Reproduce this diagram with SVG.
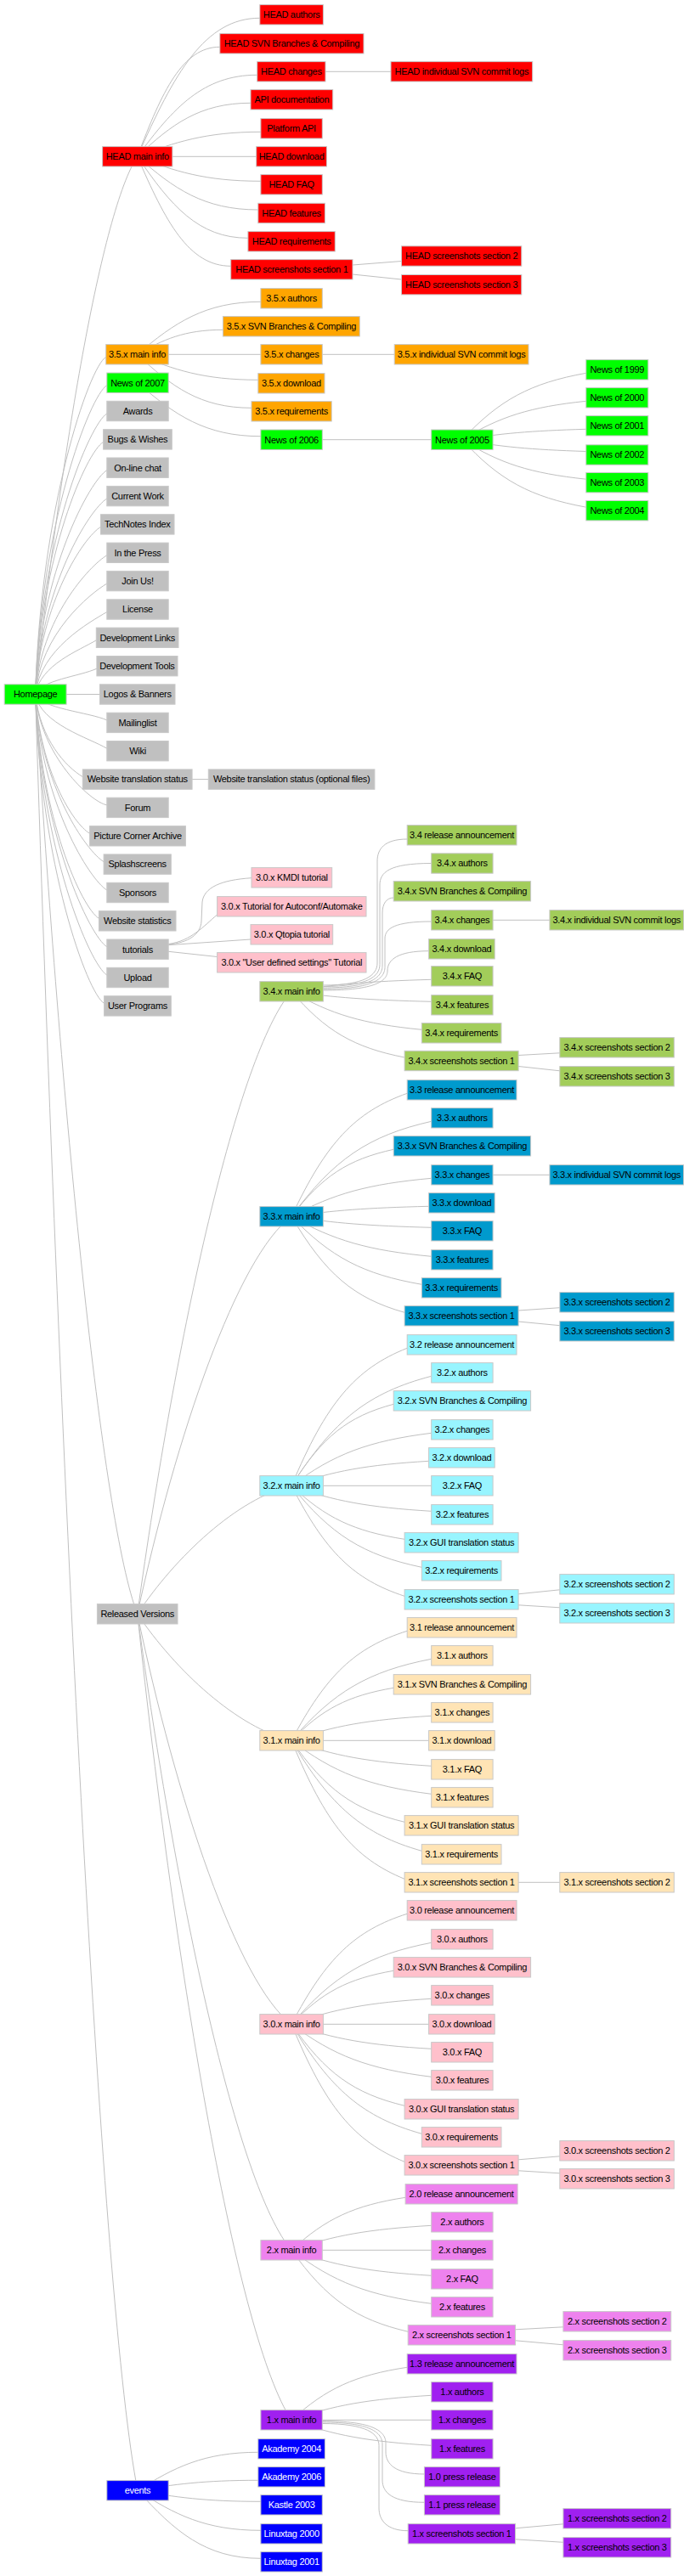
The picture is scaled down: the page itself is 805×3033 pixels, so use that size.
<svg xmlns="http://www.w3.org/2000/svg" width="805" height="3033" viewBox="0 0 805 3033">
<style>
.e path{fill:none;stroke:#c0c0c0;stroke-width:1}
.n rect{stroke:#c8c8c8;stroke-width:1;height:23.4px}
.n text{font-family:"Liberation Sans",Arial,Helvetica,sans-serif;font-size:11px;letter-spacing:-0.3px;text-anchor:middle;fill:#000}
.red rect{fill:#ff0000}.orange rect{fill:#ffa500}.green rect{fill:#00ff00}.gray rect{fill:#c0c0c0}
.pink rect{fill:#ffc0cb}.olive rect{fill:#a2cd5a}.sky rect{fill:#009acd}.cyan rect{fill:#98f5ff}
.moc rect{fill:#ffe4b5}.vio rect{fill:#ee82ee}.pur rect{fill:#a020f0}.blue rect{fill:#0000ff}.blue text{fill:#ffffff}
</style>
<rect x="0" y="0" width="805" height="3033" fill="#ffffff"/>
<g id="connectors" class="e">
<path d="M41.6,817.5 C71.6,532.6 119.7,247.6 161.7,184.3"/>
<path d="M41.6,817.5 C47.6,599 104.7,432.3 124.7,420.3"/>
<path d="M41.6,817.5 C47.6,617.4 105.8,465.7 125.8,453.7"/>
<path d="M41.6,817.5 C47.6,635.7 105.8,499 125.8,487"/>
<path d="M41.6,817.5 C47.6,654.1 101.6,532.4 121.6,520.4"/>
<path d="M41.6,817.5 C47.6,672.4 105.8,565.7 125.8,553.7"/>
<path d="M41.6,817.5 C47.6,690.8 105.8,599.1 125.8,587.1"/>
<path d="M41.6,817.5 C47.6,709.1 98.5,632.4 118.5,620.4"/>
<path d="M41.6,817.5 C47.6,727.5 105.8,665.8 125.8,653.8"/>
<path d="M41.6,817.5 C47.6,745.8 105.8,699.1 125.8,687.1"/>
<path d="M41.6,817.5 C47.6,764.1 105.8,732.5 125.8,720.5"/>
<path d="M41.6,817.5 C47.6,782.5 93.3,765.8 113.3,753.8"/>
<path d="M41.6,817.5 C47.6,800.8 93.9,796.3 113.9,787.2"/>
<path d="M78.1,817.5 L117.5,817.5"/>
<path d="M41.6,817.5 C47.6,834.2 105.8,838.8 125.8,847.9"/>
<path d="M41.6,817.5 C47.6,852.5 105.8,869.2 125.8,881.2"/>
<path d="M41.6,817.5 C47.6,870.9 77.3,902.6 97.3,914.6"/>
<path d="M41.6,817.5 C47.6,889.2 105.8,943.9 125.8,947.9"/>
<path d="M41.6,817.5 C47.6,907.6 85.6,969.3 105.6,981.3"/>
<path d="M41.6,817.5 C47.6,925.9 102.1,1002.6 122.1,1014.6"/>
<path d="M41.6,817.5 C47.6,944.3 105.8,1036 125.8,1048"/>
<path d="M41.6,817.5 C47.6,962.6 96.4,1069.3 116.4,1081.3"/>
<path d="M41.6,817.5 C47.6,981 105.8,1102.7 125.8,1114.7"/>
<path d="M41.6,817.5 C47.6,999.3 105.8,1136 125.8,1148"/>
<path d="M41.6,817.5 C47.6,1017.6 102.6,1169.4 122.6,1181.4"/>
<path d="M41.6,817.5 C71.6,1304.8 119.7,1792 161.7,1900.3"/>
<path d="M41.6,817.5 C71.7,1769.2 119.9,2720.8 162,2932.3"/>
<path d="M161.7,184.3 C204.9,86.5 241,21.3 305.8,21.3"/>
<path d="M161.7,184.3 C190.8,106.9 215.1,55.3 258.8,55.3"/>
<path d="M161.7,184.3 C204,126.7 239.3,88.3 302.7,88.3"/>
<path d="M161.7,184.3 C201.7,146.5 235,121.3 295,121.3"/>
<path d="M161.7,184.3 C205.3,167.7 241.6,155.3 306.9,155.3"/>
<path d="M202.9,184.3 L301.7,184.3"/>
<path d="M161.7,184.3 C205.3,201.7 241.6,213.3 306.9,213.3"/>
<path d="M161.7,184.3 C204.3,221.9 239.9,247 303.8,247"/>
<path d="M161.7,184.3 C200.8,241.9 233.3,280.3 291.9,280.3"/>
<path d="M161.7,184.3 C194.7,261.1 222.2,313.3 271.7,313.3"/>
<path d="M383,84.3 L460,84.3"/>
<path d="M415,312 L472.5,307.5"/>
<path d="M415,323 L472.5,329"/>
<path d="M161.5,417.3 C205.1,380.1 241.5,355.3 306.9,355.3"/>
<path d="M161.5,417.3 C191.8,399.9 217,388.3 262.4,388.3"/>
<path d="M198.2,417.3 L306.9,417.3"/>
<path d="M161.5,417.3 C204.2,435.3 239.8,447.3 303.8,447.3"/>
<path d="M161.5,417.3 C201.9,455.1 235.5,480.3 296,480.3"/>
<path d="M379.3,417.3 L464.2,417.3"/>
<path d="M162,450.7 C205.5,488.5 241.7,513.7 306.9,513.7"/>
<path d="M379.3,517.7 L507.7,517.7"/>
<path d="M543.9,517.7 C587.7,470.7 624.1,451.1 689.8,439.3"/>
<path d="M543.9,517.7 C587.7,490.6 624.1,479.1 689.8,472.3"/>
<path d="M543.9,517.7 C587.7,510.5 624.1,507.2 689.8,505.3"/>
<path d="M543.9,517.7 C587.7,526 624.1,529.4 689.8,531.5"/>
<path d="M543.9,517.7 C587.7,545.6 624.1,557.2 689.8,564.2"/>
<path d="M543.9,517.7 C587.7,565.6 624.1,585 689.8,597.2"/>
<path d="M226.1,917.6 L245.3,917.6"/>
<path d="M198.2,1112 C222,1110 236,1100 237,1085 L238,1062 C240,1045 260,1036 296,1033.7"/>
<path d="M198.2,1111.5 C225,1108 240,1090 255.6,1077"/>
<path d="M198.2,1112.7 L295,1106"/>
<path d="M198.2,1120.3 L255.6,1126.5"/>
<path d="M161.7,1900.3 C207,1570.4 279.5,1240.6 343,1167.3"/>
<path d="M161.7,1900.3 C207,1689.7 279.5,1479.1 343,1432.3"/>
<path d="M161.7,1900.3 C207,1832.3 279.5,1764.4 343,1749.3"/>
<path d="M161.7,1900.3 C207,1967.4 279.5,2034.4 343,2049.3"/>
<path d="M161.7,1900.3 C207,2117.7 279.5,2335 343,2383.3"/>
<path d="M161.7,1900.3 C207,2237.4 279.5,2574.4 343,2649.3"/>
<path d="M161.7,1900.3 C207,2327.4 279.5,2754.4 343,2849.3"/>
<path d="M380.4,1160 C430,1160 444,1148 444,1134 L444,1014 C444,1000 452,988 479.2,988"/>
<path d="M380.4,1161.5 C433,1161.5 447,1149.5 447,1135.5 L447,1042 C447,1027 458,1016.5 507.7,1016.5"/>
<path d="M380.4,1163 C436,1163 450,1151 450,1137 L450,1075 C450,1064 455,1057 463.2,1057"/>
<path d="M380.4,1164.5 C439,1164.5 453,1152.5 453,1138.5 L453,1105 C453,1093 465,1085 507.7,1085"/>
<path d="M380.4,1166 C442,1166 456,1155 456,1143 C456,1130 468,1119.7 504.6,1119.7"/>
<path d="M343.1,1167.3 C392.5,1158.9 433.6,1155.4 507.7,1153.3"/>
<path d="M343.1,1167.3 C392.5,1174.5 433.6,1177.5 507.7,1179.3"/>
<path d="M343.1,1167.3 C389.1,1194.3 427.4,1205.6 496.3,1212.3"/>
<path d="M343.1,1167.3 C383,1213.9 416.3,1233.3 476.1,1245"/>
<path d="M580.1,1083.3 L646.9,1083.3"/>
<path d="M610.1,1242.5 L658.8,1239.8"/>
<path d="M610.1,1255.5 L658.8,1260.8"/>
<path d="M343.1,1432.3 C383.9,1345.3 417.9,1309.1 479.2,1287.3"/>
<path d="M343.1,1432.3 C392.5,1365.1 433.6,1337.1 507.7,1320.3"/>
<path d="M343.1,1432.3 C379.1,1384.9 409.2,1365.2 463.2,1353.3"/>
<path d="M343.1,1432.3 C392.5,1405.3 433.6,1394.1 507.7,1387.3"/>
<path d="M343.1,1432.3 C391.6,1425.1 431.9,1422.1 504.6,1420.3"/>
<path d="M343.1,1432.3 C392.5,1440.1 433.6,1443.3 507.7,1445.3"/>
<path d="M343.1,1432.3 C392.5,1460.5 433.6,1472.3 507.7,1479.3"/>
<path d="M343.1,1432.3 C389.1,1480.3 427.4,1500.3 496.3,1512.3"/>
<path d="M343.1,1432.3 C383,1500.1 416.3,1528.4 476.1,1545.3"/>
<path d="M580.1,1383.3 L646.9,1383.3"/>
<path d="M610.1,1543 L658.8,1539.7"/>
<path d="M610.1,1556 L658.8,1560.7"/>
<path d="M343.1,1749.3 C383.9,1652.1 417.9,1611.6 479.2,1587.3"/>
<path d="M343.1,1749.3 C392.5,1671.9 433.6,1639.7 507.7,1620.3"/>
<path d="M343.1,1749.3 C379.1,1691.7 409.2,1667.7 463.2,1653.3"/>
<path d="M343.1,1749.3 C392.5,1712.1 433.6,1696.6 507.7,1687.3"/>
<path d="M343.1,1749.3 C391.6,1731.9 431.9,1724.7 504.6,1720.3"/>
<path d="M380.4,1749.3 L507.7,1749.3"/>
<path d="M343.1,1749.3 C392.5,1767.3 433.6,1774.8 507.7,1779.3"/>
<path d="M343.1,1749.3 C383,1787.1 416.3,1802.9 476.1,1812.3"/>
<path d="M343.1,1749.3 C389.1,1806.9 427.4,1830.9 496.3,1845.3"/>
<path d="M343.1,1749.3 C383,1827.3 416.3,1859.8 476.1,1879.3"/>
<path d="M610.1,1876.8 L658.8,1871.8"/>
<path d="M610.1,1889.8 L658.8,1892.8"/>
<path d="M343.1,2049.3 C383.9,1971.9 417.9,1939.7 479.2,1920.3"/>
<path d="M343.1,2049.3 C392.5,1991.7 433.6,1967.7 507.7,1953.3"/>
<path d="M343.1,2049.3 C379.1,2012.1 409.2,1996.6 463.2,1987.3"/>
<path d="M343.1,2049.3 C392.5,2031.9 433.6,2024.7 507.7,2020.3"/>
<path d="M380.4,2049.3 L504.6,2049.3"/>
<path d="M343.1,2049.3 C392.5,2067.3 433.6,2074.8 507.7,2079.3"/>
<path d="M343.1,2049.3 C392.5,2087.1 433.6,2102.9 507.7,2112.3"/>
<path d="M343.1,2049.3 C383,2106.9 416.3,2130.9 476.1,2145.3"/>
<path d="M343.1,2049.3 C389.1,2127.3 427.4,2159.8 496.3,2179.3"/>
<path d="M343.1,2049.3 C383,2147.1 416.3,2187.9 476.1,2212.3"/>
<path d="M610.1,2216.3 L658.8,2216.3"/>
<path d="M343.1,2383.3 C383.9,2305.3 417.9,2272.8 479.2,2253.3"/>
<path d="M343.1,2383.3 C392.5,2325.7 433.6,2301.7 507.7,2287.3"/>
<path d="M343.1,2383.3 C379.1,2345.5 409.2,2329.8 463.2,2320.3"/>
<path d="M343.1,2383.3 C392.5,2365.3 433.6,2357.8 507.7,2353.3"/>
<path d="M380.4,2383.3 L504.6,2383.3"/>
<path d="M343.1,2383.3 C392.5,2400.7 433.6,2408 507.7,2412.3"/>
<path d="M343.1,2383.3 C392.5,2420.5 433.6,2436 507.7,2445.3"/>
<path d="M343.1,2383.3 C383,2440.9 416.3,2464.9 476.1,2479.3"/>
<path d="M343.1,2383.3 C389.1,2460.7 427.4,2492.9 496.3,2512.3"/>
<path d="M343.1,2383.3 C383,2480.5 416.3,2521 476.1,2545.3"/>
<path d="M610.1,2542.8 L658.8,2538.8"/>
<path d="M610.1,2555.8 L658.8,2558.8"/>
<path d="M343.1,2649.3 C383.3,2612.1 416.8,2596.6 477.1,2587.3"/>
<path d="M343.1,2649.3 C392.5,2631.9 433.6,2624.7 507.7,2620.3"/>
<path d="M379.3,2649.3 L507.7,2649.3"/>
<path d="M343.1,2649.3 C392.5,2667.3 433.6,2674.8 507.7,2679.3"/>
<path d="M343.1,2649.3 C392.5,2687.1 433.6,2702.9 507.7,2712.3"/>
<path d="M343.1,2649.3 C384.2,2706.9 418.5,2730.9 480.2,2745.3"/>
<path d="M606.5,2742.8 L662.9,2739.8"/>
<path d="M606.5,2755.8 L662.9,2760.8"/>
<path d="M343.1,2849.3 C383.9,2812.1 417.9,2796.6 479.2,2787.3"/>
<path d="M343.1,2849.3 C392.5,2831.9 433.6,2824.7 507.7,2820.3"/>
<path d="M379.3,2849.3 L507.7,2849.3"/>
<path d="M343.1,2849.3 C392.5,2867.3 433.6,2874.8 507.7,2879.3"/>
<path d="M379.3,2850.5 C439,2850.5 454,2862.5 454,2876.5 L454,2887 C454,2901 465,2913 499.4,2913"/>
<path d="M379.3,2852 C436,2852 450,2864 450,2878 L450,2920 C450,2935 462,2946.3 499.4,2946.3"/>
<path d="M379.3,2853.5 C432,2853.5 446,2865.5 446,2879.5 L446,2953 C446,2968 456,2979.7 480.2,2979.7"/>
<path d="M606.5,2976.8 L662.9,2971.8"/>
<path d="M606.5,2989.8 L662.9,2993.3"/>
<path d="M162,2932.3 C204.5,2905.3 240,2887.3 303.8,2887.3"/>
<path d="M162,2932.3 C204.5,2925.1 240,2920.3 303.8,2920.3"/>
<path d="M162,2932.3 C205.5,2940.1 241.7,2945.3 306.9,2945.3"/>
<path d="M162,2932.3 C205.5,2960.5 241.7,2979.3 306.9,2979.3"/>
<path d="M162,2932.3 C205.5,2980.3 241.7,3012.3 306.9,3012.3"/>
</g>
<g id="nodes">
<g id="homepage" class="n green"><rect x="5.2" y="805.8" width="72.9"/><text x="41.65" y="821.3">Homepage</text></g>
<g id="head-main" class="n red"><rect x="120.6" y="172.6" width="82.3"/><text x="161.75" y="188.1">HEAD main info</text></g>
<g id="v35-main" class="n orange"><rect x="124.7" y="405.6" width="73.5"/><text x="161.45" y="421.1">3.5.x main info</text></g>
<g id="news2007" class="n green"><rect x="125.8" y="439" width="72.4"/><text x="162" y="454.5">News of 2007</text></g>
<g id="awards" class="n gray"><rect x="125.8" y="472.3" width="72.4"/><text x="162" y="487.8">Awards</text></g>
<g id="bugs" class="n gray"><rect x="121.6" y="505.7" width="80.7"/><text x="161.95" y="521.2">Bugs &amp; Wishes</text></g>
<g id="chat" class="n gray"><rect x="125.8" y="539" width="72.4"/><text x="162" y="554.5">On-line chat</text></g>
<g id="current" class="n gray"><rect x="125.8" y="572.4" width="72.4"/><text x="162" y="587.9">Current Work</text></g>
<g id="technotes" class="n gray"><rect x="118.5" y="605.7" width="86.5"/><text x="161.75" y="621.2">TechNotes Index</text></g>
<g id="press" class="n gray"><rect x="125.8" y="639.1" width="72.4"/><text x="162" y="654.6">In the Press</text></g>
<g id="join" class="n gray"><rect x="125.8" y="672.4" width="72.4"/><text x="162" y="687.9">Join Us!</text></g>
<g id="license" class="n gray"><rect x="125.8" y="705.8" width="72.4"/><text x="162" y="721.3">License</text></g>
<g id="devlinks" class="n gray"><rect x="113.3" y="739.1" width="96.7"/><text x="161.65" y="754.6">Development Links</text></g>
<g id="devtools" class="n gray"><rect x="113.9" y="772.5" width="95.1"/><text x="161.45" y="788">Development Tools</text></g>
<g id="logos" class="n gray"><rect x="117.5" y="805.8" width="88.5"/><text x="161.75" y="821.3">Logos &amp; Banners</text></g>
<g id="mailinglist" class="n gray"><rect x="125.8" y="839.2" width="72.4"/><text x="162" y="854.7">Mailinglist</text></g>
<g id="wiki" class="n gray"><rect x="125.8" y="872.5" width="72.4"/><text x="162" y="888">Wiki</text></g>
<g id="wts" class="n gray"><rect x="97.3" y="905.9" width="128.8"/><text x="161.7" y="921.4">Website translation status</text></g>
<g id="forum" class="n gray"><rect x="125.8" y="939.2" width="72.4"/><text x="162" y="954.7">Forum</text></g>
<g id="picture" class="n gray"><rect x="105.6" y="972.6" width="112.8"/><text x="162" y="988.1">Picture Corner Archive</text></g>
<g id="splash" class="n gray"><rect x="122.1" y="1005.9" width="79.2"/><text x="161.7" y="1021.4">Splashscreens</text></g>
<g id="sponsors" class="n gray"><rect x="125.8" y="1039.3" width="72.4"/><text x="162" y="1054.8">Sponsors</text></g>
<g id="webstats" class="n gray"><rect x="116.4" y="1072.6" width="90.6"/><text x="161.7" y="1088.1">Website statistics</text></g>
<g id="tutorials" class="n gray"><rect x="125.8" y="1106" width="72.4"/><text x="162" y="1121.5">tutorials</text></g>
<g id="upload" class="n gray"><rect x="125.8" y="1139.3" width="72.4"/><text x="162" y="1154.8">Upload</text></g>
<g id="userprog" class="n gray"><rect x="122.6" y="1172.7" width="78.7"/><text x="161.95" y="1188.2">User Programs</text></g>
<g id="released" class="n gray"><rect x="114.4" y="1888.6" width="94.6"/><text x="161.7" y="1904.1">Released Versions</text></g>
<g id="events" class="n blue"><rect x="125.8" y="2920.6" width="72.4"/><text x="162" y="2936.1">events</text></g>

<g id="head-authors" class="n red"><rect x="305.8" y="5.6" width="74.6"/><text x="343.1" y="21.1">HEAD authors</text></g>
<g id="head-svn" class="n red"><rect x="258.8" y="39.6" width="169.2"/><text x="343.4" y="55.1">HEAD SVN Branches &amp; Compiling</text></g>
<g id="head-changes" class="n red"><rect x="302.7" y="72.6" width="80.3"/><text x="342.85" y="88.1">HEAD changes</text></g>
<g id="head-api" class="n red"><rect x="295" y="105.6" width="96.7"/><text x="343.35" y="121.1">API documentation</text></g>
<g id="head-platform" class="n red"><rect x="306.9" y="139.6" width="72.4"/><text x="343.1" y="155.1">Platform API</text></g>
<g id="head-download" class="n red"><rect x="301.7" y="172.6" width="82.8"/><text x="343.1" y="188.1">HEAD download</text></g>
<g id="head-faq" class="n red"><rect x="306.9" y="205.6" width="72.4"/><text x="343.1" y="221.1">HEAD FAQ</text></g>
<g id="head-features" class="n red"><rect x="303.8" y="239.3" width="78.6"/><text x="343.1" y="254.8">HEAD features</text></g>
<g id="head-req" class="n red"><rect x="291.9" y="272.6" width="102.4"/><text x="343.1" y="288.1">HEAD requirements</text></g>
<g id="head-ss1" class="n red"><rect x="271.7" y="305.6" width="143.3"/><text x="343.35" y="321.1">HEAD screenshots section 1</text></g>
<g id="head-logs" class="n red"><rect x="460" y="72.6" width="166.7"/><text x="543.35" y="88.1">HEAD individual SVN commit logs</text></g>
<g id="head-ss2" class="n red"><rect x="472.5" y="289.8" width="141.3"/><text x="543.15" y="305.3">HEAD screenshots section 2</text></g>
<g id="head-ss3" class="n red"><rect x="472.5" y="323.5" width="141.3"/><text x="543.15" y="339">HEAD screenshots section 3</text></g>

<g id="v35-authors" class="n orange"><rect x="306.9" y="339.6" width="72.4"/><text x="343.1" y="355.1">3.5.x authors</text></g>
<g id="v35-svn" class="n orange"><rect x="262.4" y="372.6" width="160.9"/><text x="342.85" y="388.1">3.5.x SVN Branches &amp; Compiling</text></g>
<g id="v35-changes" class="n orange"><rect x="306.9" y="405.6" width="72.4"/><text x="343.1" y="421.1">3.5.x changes</text></g>
<g id="v35-download" class="n orange"><rect x="303.8" y="439.6" width="78.2"/><text x="342.9" y="455.1">3.5.x download</text></g>
<g id="v35-req" class="n orange"><rect x="296" y="472.6" width="94.2"/><text x="343.1" y="488.1">3.5.x requirements</text></g>
<g id="v35-logs" class="n orange"><rect x="464.2" y="405.6" width="157.8"/><text x="543.1" y="421.1">3.5.x individual SVN commit logs</text></g>

<g id="news2006" class="n green"><rect x="306.9" y="506" width="72.4"/><text x="343.1" y="521.5">News of 2006</text></g>
<g id="news2005" class="n green"><rect x="507.7" y="506" width="72.4"/><text x="543.9" y="521.5">News of 2005</text></g>
<g id="news1999" class="n green"><rect x="689.8" y="423.6" width="73"/><text x="726.3" y="439.1">News of 1999</text></g>
<g id="news2000" class="n green"><rect x="689.8" y="456.6" width="73"/><text x="726.3" y="472.1">News of 2000</text></g>
<g id="news2001" class="n green"><rect x="689.8" y="489.6" width="73"/><text x="726.3" y="505.1">News of 2001</text></g>
<g id="news2002" class="n green"><rect x="689.8" y="523.8" width="73"/><text x="726.3" y="539.3">News of 2002</text></g>
<g id="news2003" class="n green"><rect x="689.8" y="556.5" width="73"/><text x="726.3" y="572">News of 2003</text></g>
<g id="news2004" class="n green"><rect x="689.8" y="589.5" width="73"/><text x="726.3" y="605">News of 2004</text></g>

<g id="wts-opt" class="n gray"><rect x="245.3" y="905.9" width="195.6"/><text x="343.1" y="921.4">Website translation status (optional files)</text></g>

<g id="tut-kmdi" class="n pink"><rect x="296" y="1021.6" width="94.7"/><text x="343.35" y="1037.1">3.0.x KMDI tutorial</text></g>
<g id="tut-autoconf" class="n pink"><rect x="255.6" y="1055.6" width="175.4"/><text x="343.3" y="1071.1">3.0.x Tutorial for Autoconf/Automake</text></g>
<g id="tut-qtopia" class="n pink"><rect x="295" y="1088.6" width="96.7"/><text x="343.35" y="1104.1">3.0.x Qtopia tutorial</text></g>
<g id="tut-user" class="n pink"><rect x="255.6" y="1121.6" width="175.4"/><text x="343.3" y="1137.1">3.0.x "User defined settings" Tutorial</text></g>

<g id="v34-main" class="n olive"><rect x="305.8" y="1155.6" width="74.6"/><text x="343.1" y="1171.1">3.4.x main info</text></g>
<g id="v34-rel" class="n olive"><rect x="479.2" y="971.6" width="128.8"/><text x="543.6" y="987.1">3.4 release announcement</text></g>
<g id="v34-authors" class="n olive"><rect x="507.7" y="1004.8" width="72.4"/><text x="543.9" y="1020.3">3.4.x authors</text></g>
<g id="v34-svn" class="n olive"><rect x="463.2" y="1037.6" width="161.4"/><text x="543.9" y="1053.1">3.4.x SVN Branches &amp; Compiling</text></g>
<g id="v34-changes" class="n olive"><rect x="507.7" y="1071.6" width="72.4"/><text x="543.9" y="1087.1">3.4.x changes</text></g>
<g id="v34-download" class="n olive"><rect x="504.6" y="1105.6" width="77.6"/><text x="543.4" y="1121.1">3.4.x download</text></g>
<g id="v34-faq" class="n olive"><rect x="507.7" y="1137.6" width="72.4"/><text x="543.9" y="1153.1">3.4.x FAQ</text></g>
<g id="v34-features" class="n olive"><rect x="507.7" y="1171.6" width="72.4"/><text x="543.9" y="1187.1">3.4.x features</text></g>
<g id="v34-req" class="n olive"><rect x="496.3" y="1204.6" width="93.7"/><text x="543.15" y="1220.1">3.4.x requirements</text></g>
<g id="v34-ss1" class="n olive"><rect x="476.1" y="1237.3" width="134"/><text x="543.1" y="1252.8">3.4.x screenshots section 1</text></g>
<g id="v34-logs" class="n olive"><rect x="646.9" y="1071.6" width="157.6"/><text x="725.7" y="1087.1">3.4.x individual SVN commit logs</text></g>
<g id="v34-ss2" class="n olive"><rect x="658.8" y="1221.6" width="134.5"/><text x="726.05" y="1237.1">3.4.x screenshots section 2</text></g>
<g id="v34-ss3" class="n olive"><rect x="658.8" y="1255.6" width="134.5"/><text x="726.05" y="1271.1">3.4.x screenshots section 3</text></g>

<g id="v33-main" class="n sky"><rect x="305.8" y="1420.6" width="74.6"/><text x="343.1" y="1436.1">3.3.x main info</text></g>
<g id="v33-rel" class="n sky"><rect x="479.2" y="1271.6" width="128.8"/><text x="543.6" y="1287.1">3.3 release announcement</text></g>
<g id="v33-authors" class="n sky"><rect x="507.7" y="1304.6" width="72.4"/><text x="543.9" y="1320.1">3.3.x authors</text></g>
<g id="v33-svn" class="n sky"><rect x="463.2" y="1337.6" width="161.4"/><text x="543.9" y="1353.1">3.3.x SVN Branches &amp; Compiling</text></g>
<g id="v33-changes" class="n sky"><rect x="507.7" y="1371.6" width="72.4"/><text x="543.9" y="1387.1">3.3.x changes</text></g>
<g id="v33-download" class="n sky"><rect x="504.6" y="1404.6" width="77.6"/><text x="543.4" y="1420.1">3.3.x download</text></g>
<g id="v33-faq" class="n sky"><rect x="507.7" y="1437.6" width="72.4"/><text x="543.9" y="1453.1">3.3.x FAQ</text></g>
<g id="v33-features" class="n sky"><rect x="507.7" y="1471.6" width="72.4"/><text x="543.9" y="1487.1">3.3.x features</text></g>
<g id="v33-req" class="n sky"><rect x="496.3" y="1504.6" width="93.7"/><text x="543.15" y="1520.1">3.3.x requirements</text></g>
<g id="v33-ss1" class="n sky"><rect x="476.1" y="1537.6" width="134"/><text x="543.1" y="1553.1">3.3.x screenshots section 1</text></g>
<g id="v33-logs" class="n sky"><rect x="646.9" y="1371.6" width="157.6"/><text x="725.7" y="1387.1">3.3.x individual SVN commit logs</text></g>
<g id="v33-ss2" class="n sky"><rect x="658.8" y="1521.6" width="134.5"/><text x="726.05" y="1537.1">3.3.x screenshots section 2</text></g>
<g id="v33-ss3" class="n sky"><rect x="658.8" y="1555.6" width="134.5"/><text x="726.05" y="1571.1">3.3.x screenshots section 3</text></g>

<g id="v32-main" class="n cyan"><rect x="305.8" y="1737.6" width="74.6"/><text x="343.1" y="1753.1">3.2.x main info</text></g>
<g id="v32-rel" class="n cyan"><rect x="479.2" y="1571.6" width="128.8"/><text x="543.6" y="1587.1">3.2 release announcement</text></g>
<g id="v32-authors" class="n cyan"><rect x="507.7" y="1604.6" width="72.4"/><text x="543.9" y="1620.1">3.2.x authors</text></g>
<g id="v32-svn" class="n cyan"><rect x="463.2" y="1637.6" width="161.4"/><text x="543.9" y="1653.1">3.2.x SVN Branches &amp; Compiling</text></g>
<g id="v32-changes" class="n cyan"><rect x="507.7" y="1671.6" width="72.4"/><text x="543.9" y="1687.1">3.2.x changes</text></g>
<g id="v32-download" class="n cyan"><rect x="504.6" y="1704.6" width="77.6"/><text x="543.4" y="1720.1">3.2.x download</text></g>
<g id="v32-faq" class="n cyan"><rect x="507.7" y="1737.6" width="72.4"/><text x="543.9" y="1753.1">3.2.x FAQ</text></g>
<g id="v32-features" class="n cyan"><rect x="507.7" y="1771.6" width="72.4"/><text x="543.9" y="1787.1">3.2.x features</text></g>
<g id="v32-gui" class="n cyan"><rect x="476.1" y="1804.6" width="134"/><text x="543.1" y="1820.1">3.2.x GUI translation status</text></g>
<g id="v32-req" class="n cyan"><rect x="496.3" y="1837.6" width="93.7"/><text x="543.15" y="1853.1">3.2.x requirements</text></g>
<g id="v32-ss1" class="n cyan"><rect x="476.1" y="1871.6" width="134"/><text x="543.1" y="1887.1">3.2.x screenshots section 1</text></g>
<g id="v32-ss2" class="n cyan"><rect x="658.8" y="1853.6" width="134.5"/><text x="726.05" y="1869.1">3.2.x screenshots section 2</text></g>
<g id="v32-ss3" class="n cyan"><rect x="658.8" y="1887.6" width="134.5"/><text x="726.05" y="1903.1">3.2.x screenshots section 3</text></g>

<g id="v31-main" class="n moc"><rect x="305.8" y="2037.6" width="74.6"/><text x="343.1" y="2053.1">3.1.x main info</text></g>
<g id="v31-rel" class="n moc"><rect x="479.2" y="1904.6" width="128.8"/><text x="543.6" y="1920.1">3.1 release announcement</text></g>
<g id="v31-authors" class="n moc"><rect x="507.7" y="1937.6" width="72.4"/><text x="543.9" y="1953.1">3.1.x authors</text></g>
<g id="v31-svn" class="n moc"><rect x="463.2" y="1971.6" width="161.4"/><text x="543.9" y="1987.1">3.1.x SVN Branches &amp; Compiling</text></g>
<g id="v31-changes" class="n moc"><rect x="507.7" y="2004.6" width="72.4"/><text x="543.9" y="2020.1">3.1.x changes</text></g>
<g id="v31-download" class="n moc"><rect x="504.6" y="2037.6" width="77.6"/><text x="543.4" y="2053.1">3.1.x download</text></g>
<g id="v31-faq" class="n moc"><rect x="507.7" y="2071.6" width="72.4"/><text x="543.9" y="2087.1">3.1.x FAQ</text></g>
<g id="v31-features" class="n moc"><rect x="507.7" y="2104.6" width="72.4"/><text x="543.9" y="2120.1">3.1.x features</text></g>
<g id="v31-gui" class="n moc"><rect x="476.1" y="2137.6" width="134"/><text x="543.1" y="2153.1">3.1.x GUI translation status</text></g>
<g id="v31-req" class="n moc"><rect x="496.3" y="2171.6" width="93.7"/><text x="543.15" y="2187.1">3.1.x requirements</text></g>
<g id="v31-ss1" class="n moc"><rect x="476.1" y="2204.6" width="134"/><text x="543.1" y="2220.1">3.1.x screenshots section 1</text></g>
<g id="v31-ss2" class="n moc"><rect x="658.8" y="2204.6" width="134.5"/><text x="726.05" y="2220.1">3.1.x screenshots section 2</text></g>

<g id="v30-main" class="n pink"><rect x="305.8" y="2371.6" width="74.6"/><text x="343.1" y="2387.1">3.0.x main info</text></g>
<g id="v30-rel" class="n pink"><rect x="479.2" y="2237.6" width="128.8"/><text x="543.6" y="2253.1">3.0 release announcement</text></g>
<g id="v30-authors" class="n pink"><rect x="507.7" y="2271.6" width="72.4"/><text x="543.9" y="2287.1">3.0.x authors</text></g>
<g id="v30-svn" class="n pink"><rect x="463.2" y="2304.6" width="161.4"/><text x="543.9" y="2320.1">3.0.x SVN Branches &amp; Compiling</text></g>
<g id="v30-changes" class="n pink"><rect x="507.7" y="2337.6" width="72.4"/><text x="543.9" y="2353.1">3.0.x changes</text></g>
<g id="v30-download" class="n pink"><rect x="504.6" y="2371.6" width="77.6"/><text x="543.4" y="2387.1">3.0.x download</text></g>
<g id="v30-faq" class="n pink"><rect x="507.7" y="2404.6" width="72.4"/><text x="543.9" y="2420.1">3.0.x FAQ</text></g>
<g id="v30-features" class="n pink"><rect x="507.7" y="2437.6" width="72.4"/><text x="543.9" y="2453.1">3.0.x features</text></g>
<g id="v30-gui" class="n pink"><rect x="476.1" y="2471.6" width="134"/><text x="543.1" y="2487.1">3.0.x GUI translation status</text></g>
<g id="v30-req" class="n pink"><rect x="496.3" y="2504.6" width="93.7"/><text x="543.15" y="2520.1">3.0.x requirements</text></g>
<g id="v30-ss1" class="n pink"><rect x="476.1" y="2537.6" width="134"/><text x="543.1" y="2553.1">3.0.x screenshots section 1</text></g>
<g id="v30-ss2" class="n pink"><rect x="658.8" y="2520.6" width="134.5"/><text x="726.05" y="2536.1">3.0.x screenshots section 2</text></g>
<g id="v30-ss3" class="n pink"><rect x="658.8" y="2553.6" width="134.5"/><text x="726.05" y="2569.1">3.0.x screenshots section 3</text></g>

<g id="v2-main" class="n vio"><rect x="306.9" y="2637.6" width="72.4"/><text x="343.1" y="2653.1">2.x main info</text></g>
<g id="v2-rel" class="n vio"><rect x="477.1" y="2571.6" width="132"/><text x="543.1" y="2587.1">2.0 release announcement</text></g>
<g id="v2-authors" class="n vio"><rect x="507.7" y="2604.6" width="72.4"/><text x="543.9" y="2620.1">2.x authors</text></g>
<g id="v2-changes" class="n vio"><rect x="507.7" y="2637.6" width="72.4"/><text x="543.9" y="2653.1">2.x changes</text></g>
<g id="v2-faq" class="n vio"><rect x="507.7" y="2671.6" width="72.4"/><text x="543.9" y="2687.1">2.x FAQ</text></g>
<g id="v2-features" class="n vio"><rect x="507.7" y="2704.6" width="72.4"/><text x="543.9" y="2720.1">2.x features</text></g>
<g id="v2-ss1" class="n vio"><rect x="480.2" y="2737.6" width="126.3"/><text x="543.35" y="2753.1">2.x screenshots section 1</text></g>
<g id="v2-ss2" class="n vio"><rect x="662.9" y="2721.6" width="126.8"/><text x="726.3" y="2737.1">2.x screenshots section 2</text></g>
<g id="v2-ss3" class="n vio"><rect x="662.9" y="2755.6" width="126.8"/><text x="726.3" y="2771.1">2.x screenshots section 3</text></g>

<g id="v1-main" class="n pur"><rect x="306.9" y="2837.6" width="72.4"/><text x="343.1" y="2853.1">1.x main info</text></g>
<g id="v1-rel" class="n pur"><rect x="479.2" y="2771.6" width="128.8"/><text x="543.6" y="2787.1">1.3 release announcement</text></g>
<g id="v1-authors" class="n pur"><rect x="507.7" y="2804.6" width="72.4"/><text x="543.9" y="2820.1">1.x authors</text></g>
<g id="v1-changes" class="n pur"><rect x="507.7" y="2837.6" width="72.4"/><text x="543.9" y="2853.1">1.x changes</text></g>
<g id="v1-features" class="n pur"><rect x="507.7" y="2871.6" width="72.4"/><text x="543.9" y="2887.1">1.x features</text></g>
<g id="v1-press10" class="n pur"><rect x="499.4" y="2904.6" width="89"/><text x="543.9" y="2920.1">1.0 press release</text></g>
<g id="v1-press11" class="n pur"><rect x="499.4" y="2937.6" width="89"/><text x="543.9" y="2953.1">1.1 press release</text></g>
<g id="v1-ss1" class="n pur"><rect x="480.2" y="2971.6" width="126.3"/><text x="543.35" y="2987.1">1.x screenshots section 1</text></g>
<g id="v1-ss2" class="n pur"><rect x="662.9" y="2953.6" width="126.8"/><text x="726.3" y="2969.1">1.x screenshots section 2</text></g>
<g id="v1-ss3" class="n pur"><rect x="662.9" y="2987.6" width="126.8"/><text x="726.3" y="3003.1">1.x screenshots section 3</text></g>

<g id="akademy2004" class="n blue"><rect x="303.8" y="2871.6" width="78.6"/><text x="343.1" y="2887.1">Akademy 2004</text></g>
<g id="akademy2006" class="n blue"><rect x="303.8" y="2904.6" width="78.6"/><text x="343.1" y="2920.1">Akademy 2006</text></g>
<g id="kastle2003" class="n blue"><rect x="306.9" y="2937.6" width="72.4"/><text x="343.1" y="2953.1">Kastle 2003</text></g>
<g id="linuxtag2000" class="n blue"><rect x="306.9" y="2971.6" width="72.4"/><text x="343.1" y="2987.1">Linuxtag 2000</text></g>
<g id="linuxtag2001" class="n blue"><rect x="306.9" y="3004.6" width="72.4"/><text x="343.1" y="3020.1">Linuxtag 2001</text></g>
</g>
</svg>
